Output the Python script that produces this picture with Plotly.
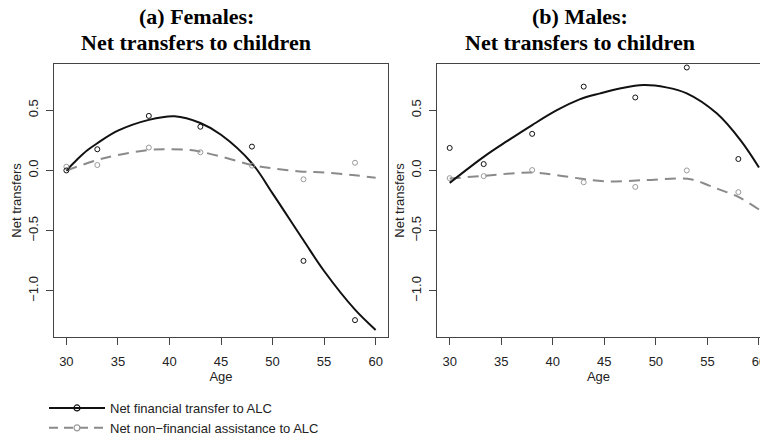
import plotly.graph_objects as go
from plotly.subplots import make_subplots

# ---------------- data ----------------
ages_f = [30, 33, 38, 43, 48, 53, 58]
fin_pts_f = [0.00, 0.176, 0.453, 0.363, 0.198, -0.751, -1.243]
nonfin_pts_f = [0.031, 0.045, 0.19, 0.151, 0.04, -0.073, 0.064]

curve_x_f = [30, 31, 32, 33, 35, 38, 40.5, 43, 45, 48, 50, 53, 55, 58, 60]
fin_curve_f = [0.0, 0.087, 0.165, 0.226, 0.33, 0.42, 0.45, 0.394, 0.296, 0.06, -0.19, -0.58, -0.835, -1.156, -1.324]
nonfin_curve_x_f = [30, 33, 35, 38, 40, 42, 43, 45, 48, 50, 53, 55, 58, 60]
nonfin_curve_f = [0.0, 0.087, 0.128, 0.17, 0.176, 0.17, 0.156, 0.115, 0.045, 0.017, -0.01, -0.017, -0.04, -0.061]

ages_m = [30, 33.3, 38, 43, 48, 53, 58]
fin_pts_m = [0.187, 0.053, 0.304, 0.696, 0.606, 0.855, 0.095]
nonfin_pts_m = [-0.064, -0.047, 0.003, -0.098, -0.137, 0.0, -0.18]

curve_x_m = [30, 33.3, 35.6, 38, 40.4, 42.6, 44.6, 46.5, 48.8, 51, 53, 55.9, 58.2, 60]
fin_curve_m = [-0.103, 0.113, 0.245, 0.377, 0.50, 0.59, 0.64, 0.68, 0.709, 0.69, 0.64, 0.474, 0.252, 0.025]
nonfin_curve_x_m = [30, 33.3, 38, 40.4, 42.6, 45, 48.8, 52, 53.5, 55.9, 58, 60]
nonfin_curve_m = [-0.067, -0.045, -0.017, -0.039, -0.067, -0.09, -0.081, -0.067, -0.075, -0.15, -0.22, -0.324]

x_ticks = [30, 35, 40, 45, 50, 55, 60]
y_ticks = [-1.0, -0.5, 0.0, 0.5]
panel_title_1 = ["<b>(a) Females:</b>", "<b>(b) Males:</b>"]
panel_title_2 = ["<b>Net transfers to children</b>", "<b>Net transfers to children</b>"]
legend_names = ["Net financial transfer to ALC", "Net non\u2212financial assistance to ALC"]

# ---------------- styles ----------------
BLACK = "#111111"
GRAY_LINE = "#8a8a8a"
GRAY_PT = "#9a9a9a"
TXT = "#222222"
SANS = "Liberation Sans, Arial, sans-serif"
SERIF = "Liberation Serif, Times New Roman, serif"

W, H = 760, 441
ML, MR, MT, MB = 54, 0, 64, 104
PW = W - ML - MR
PH = H - MT - MB

fig = make_subplots(rows=1, cols=2, horizontal_spacing=0.0)

panels = [
    (1, curve_x_f, fin_curve_f, nonfin_curve_x_f, nonfin_curve_f, ages_f, fin_pts_f, nonfin_pts_f),
    (2, curve_x_m, fin_curve_m, nonfin_curve_x_m, nonfin_curve_m, ages_m, fin_pts_m, nonfin_pts_m),
]
for col, cx, fc, ncx, nc, ax, fp, npts in panels:
    fig.add_hline(y=0, line=dict(color="#b0b0b0", width=1, dash="dot"), row=1, col=col)
    fig.add_trace(go.Scatter(x=ncx, y=nc, mode="lines",
                             line=dict(color=GRAY_LINE, width=2, dash="11px,7px", shape="spline", smoothing=1.0),
                             showlegend=False, hoverinfo="skip"), row=1, col=col)
    fig.add_trace(go.Scatter(x=cx, y=fc, mode="lines",
                             line=dict(color=BLACK, width=2, shape="spline", smoothing=1.0),
                             showlegend=False, hoverinfo="skip"), row=1, col=col)
    fig.add_trace(go.Scatter(x=ax, y=npts, mode="markers",
                             marker=dict(symbol="circle-open", size=5, color=GRAY_PT, line=dict(width=1)),
                             showlegend=False), row=1, col=col)
    fig.add_trace(go.Scatter(x=ax, y=fp, mode="markers",
                             marker=dict(symbol="circle-open", size=5, color=BLACK, line=dict(width=1)),
                             showlegend=False), row=1, col=col)

# legend entries
fig.add_trace(go.Scatter(x=[None], y=[None], mode="lines+markers", name=legend_names[0],
                         line=dict(color=BLACK, width=2),
                         marker=dict(symbol="circle-open", size=6, color=BLACK, line=dict(width=1.2))), row=1, col=1)
fig.add_trace(go.Scatter(x=[None], y=[None], mode="lines+markers", name=legend_names[1],
                         line=dict(color=GRAY_LINE, width=2, dash="9px,6px"),
                         marker=dict(symbol="circle-open", size=6, color=GRAY_PT, line=dict(width=1.2))), row=1, col=1)

axis_common = dict(showline=True, mirror=True, linecolor="#444444", linewidth=1,
                   ticks="outside", ticklen=7, tickcolor="#444444", tickwidth=1,
                   showgrid=False, zeroline=False, automargin=False,
                   tickfont=dict(family=SANS, size=13, color=TXT))

d1 = (388 - ML) / PW
d2 = (437 - ML) / PW
fig.update_xaxes(**axis_common, tickvals=x_ticks, ticklabelstandoff=5, ticklabeloverflow="allow",
                 title=dict(text="Age", font=dict(family=SANS, size=13, color=TXT), standoff=1))
fig.update_xaxes(domain=[0, d1], range=[28.8, 61.2], row=1, col=1)
fig.update_xaxes(domain=[d2, 1], range=[28.77, 60.1], row=1, col=2)
fig.update_yaxes(**axis_common, tickvals=y_ticks, tickformat=".1f", tickangle=-90, range=[-1.383, 0.884],
                 ticklabelstandoff=3,
                 title=dict(text="Net transfers", font=dict(family=SANS, size=13, color=TXT), standoff=1))

# panel titles (two lines each)
title_x = [196, 580]
for tx, t1, t2 in zip(title_x, panel_title_1, panel_title_2):
    for ty, tt in ((17, t1), (42, t2)):
        fig.add_annotation(text=tt, xref="paper", yref="paper", x=(tx - ML) / PW, y=1 + (MT - ty) / PH,
                           xanchor="center", yanchor="middle", showarrow=False, align="center",
                           font=dict(family=SERIF, size=22, color="#000000"))

fig.update_layout(
    width=W, height=H,
    margin=dict(l=ML, r=MR, t=MT, b=MB, autoexpand=False),
    paper_bgcolor="white", plot_bgcolor="white",
    showlegend=True,
    legend=dict(x=(44 - ML) / PW, y=-(393 - (H - MB)) / PH, xanchor="left", yanchor="top",
                font=dict(family=SANS, size=13, color=TXT), bgcolor="rgba(0,0,0,0)",
                itemwidth=56, tracegroupgap=0),
)

fig.write_html("out.html")
